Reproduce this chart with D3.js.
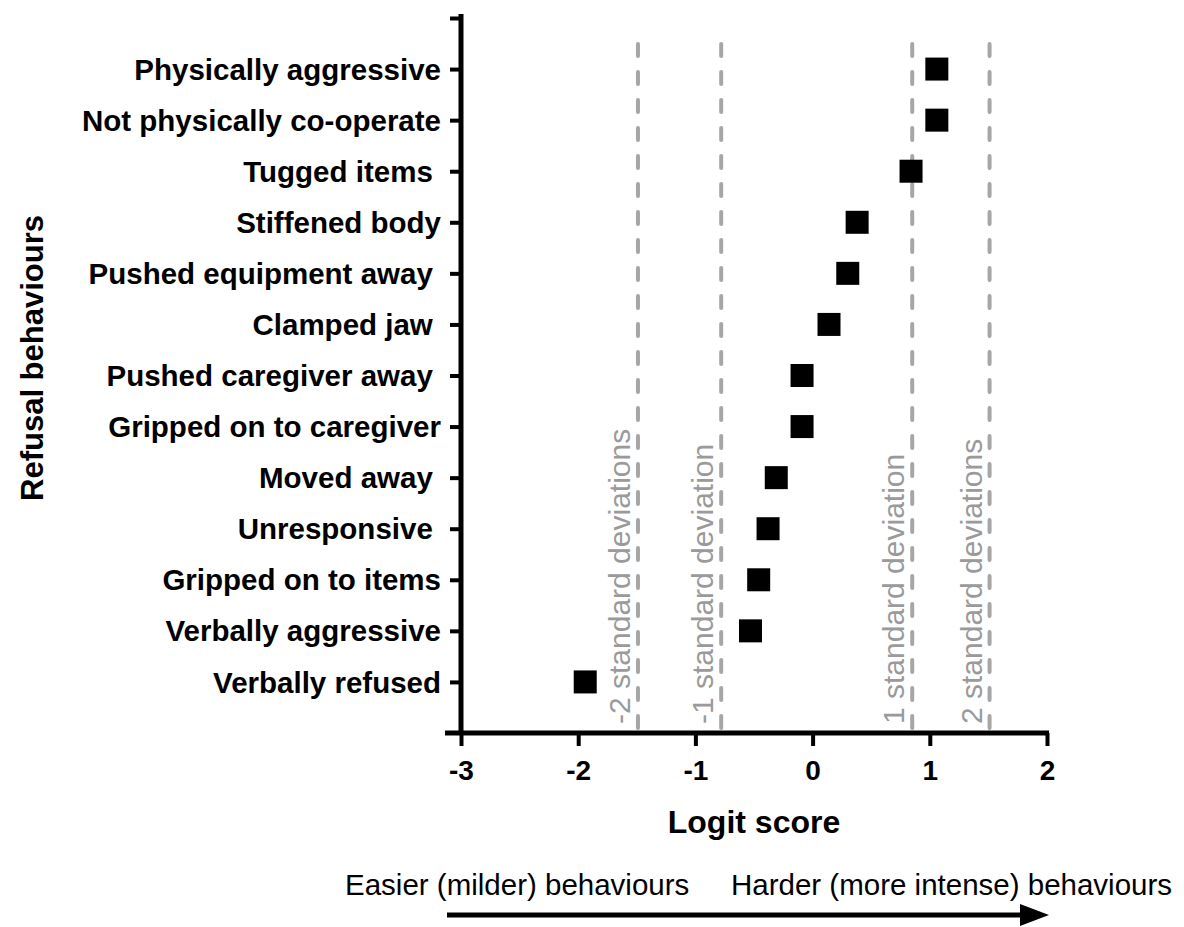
<!DOCTYPE html>
<html>
<head>
<meta charset="utf-8">
<script src="https://cdn.jsdelivr.net/npm/d3@7"></script>
<style>
  body { margin: 0; background: #fff; }
  svg text { font-family: "Liberation Sans", Arial, sans-serif; white-space: pre; }
</style>
</head>
<body>
<svg width="1184" height="927"></svg>
<script>
// behaviours, top to bottom
var behaviours = [
  "Physically aggressive", "Not physically co-operate", "Tugged items ",
  "Stiffened body", "Pushed equipment away ", "Clamped jaw ",
  "Pushed caregiver away ", "Gripped on to caregiver", "Moved away ",
  "Unresponsive ", "Gripped on to items", "Verbally aggressive",
  "Verbally refused"
];
var logits = [1.06, 1.06, 0.84, 0.38, 0.30, 0.14, -0.09, -0.09, -0.31, -0.38, -0.46, -0.53, -1.94];
var xTicks = [-3, -2, -1, 0, 1, 2];
var sdValues = [-1.49, -0.78, 0.85, 1.51];
var sdLabels = ["-2 standard deviations", "-1 standard deviation", "1 standard deviation", "2 standard deviations"];

var svg = d3.select("svg");
var x = d3.scaleLinear().domain([-3, 2]).range([461, 1047]);
// categories sit on 1..13 counted from the bottom
var y = d3.scaleLinear().domain([0, 14]).range([733, 18]);
var rowPos = function (i) { return y(behaviours.length - i); };

// sd reference lines
var sd = svg.append("g");
sd.selectAll("line")
  .data(sdValues)
  .enter().append("line")
  .attr("x1", function (d) { return x(d); })
  .attr("x2", function (d) { return x(d); })
  .attr("y1", 44)
  .attr("y2", 729)
  .attr("stroke", "#a6a6a6")
  .attr("stroke-width", 4)
  .attr("stroke-linecap", "round")
  .attr("stroke-dasharray", "12,16");
sd.selectAll("text")
  .data(sdValues)
  .enter().append("text")
  .attr("transform", function (d) { return "translate(" + (x(d) - 8) + ",724) rotate(-90)"; })
  .attr("fill", "#9a9a9a")
  .attr("font-size", "30px")
  .text(function (d, i) { return sdLabels[i]; });

// y axis
var gy = svg.append("g").attr("transform", "translate(461,0)");
gy.call(d3.axisLeft(y).tickValues(d3.range(1, 15)).tickSize(11).tickFormat(""));
gy.select(".domain").remove();
gy.append("line").attr("y1", 14).attr("y2", 735).attr("stroke", "#000").attr("stroke-width", 5);
gy.selectAll(".tick line").attr("stroke-width", 4);

svg.append("g").selectAll("text")
  .data(behaviours)
  .enter().append("text")
  .attr("x", 441)
  .attr("y", function (d, i) { return rowPos(i); })
  .attr("dy", "0.36em")
  .attr("text-anchor", "end")
  .attr("font-weight", "bold")
  .attr("font-size", "29.5px")
  .text(function (d) { return d; });

// x axis
var gx = svg.append("g").attr("transform", "translate(0,733)");
gx.call(d3.axisBottom(x).tickValues(xTicks).tickSize(13).tickFormat(d3.format("d")));
gx.select(".domain").remove();
gx.append("line").attr("x1", 445).attr("x2", 1049).attr("stroke", "#000").attr("stroke-width", 5);
gx.selectAll(".tick line").attr("stroke-width", 4);
gx.selectAll(".tick text")
  .attr("font-family", "Liberation Sans, Arial, sans-serif")
  .attr("font-size", "28px")
  .attr("font-weight", "bold")
  .attr("fill", "#000")
  .attr("y", 27)
  .attr("dy", "0.71em")
  .text(function (d) { return d < 0 ? "-" + Math.abs(d) : d; });

// points
svg.append("g").selectAll("rect")
  .data(logits)
  .enter().append("rect")
  .attr("x", function (d) { return x(d) - 11.5; })
  .attr("y", function (d, i) { return rowPos(i) - 11.5; })
  .attr("width", 23)
  .attr("height", 23)
  .attr("fill", "#000");

// axis titles
svg.append("text")
  .attr("x", 754).attr("y", 833)
  .attr("text-anchor", "middle")
  .attr("font-weight", "bold")
  .attr("font-size", "32px")
  .text("Logit score");
svg.append("text")
  .attr("transform", "translate(43,358) rotate(-90)")
  .attr("text-anchor", "middle")
  .attr("font-weight", "bold")
  .attr("font-size", "31px")
  .text("Refusal behaviours");

// direction note with arrow
svg.append("text")
  .attr("x", 345).attr("y", 895)
  .attr("font-size", "29.5px")
  .text("Easier (milder) behaviours");
svg.append("text")
  .attr("x", 731).attr("y", 895)
  .attr("font-size", "29.5px")
  .text("Harder (more intense) behaviours");
svg.append("line")
  .attr("x1", 447).attr("x2", 1024)
  .attr("y1", 915).attr("y2", 915)
  .attr("stroke", "#000").attr("stroke-width", 5);
svg.append("path")
  .attr("d", "M1020,904 L1049,915 L1020,926 Z")
  .attr("fill", "#000");
</script>
</body>
</html>
